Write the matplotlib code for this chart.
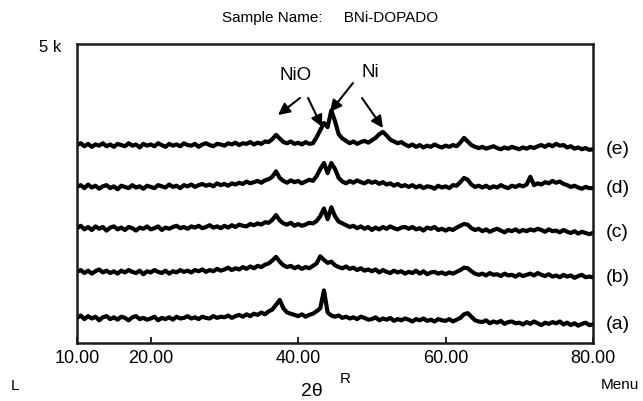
import numpy as np
import matplotlib
matplotlib.use('Agg')
import matplotlib.pyplot as plt

plt.rcParams['font.family'] = ['Liberation Sans', 'DejaVu Sans']

# 2theta grid, 0.5 deg steps from 10 to 80
two_theta = np.arange(10, 80.5, 0.5)

# intensities (counts) relative to each pattern's own baseline
trace_a = [0, 40, -20, 30, -10, 20, -40, 10, 30, -20,
           10, -30, 20, 0, -40, 10, 30, -20, 0, -30,
           -10, 20, -40, 0, -20, 10, -30, 20, -10, 0,
           30, -10, 10, -20, 20, 0, -10, 30, 0, 20,
           10, 40, 0, 30, 50, 20, 60, 30, 70, 50,
           90, 60, 110, 140, 220, 300, 160, 90, 70, 50,
           30, 60, 20, 50, 70, 110, 160, 460, 90, 40,
           20, 40, 0, 20, -10, 10, -20, 20, 0, -30,
           -20, 10, -40, -10, -30, 0, -50, -20, -40, -10,
           -30, -60, -20, -40, -10, -50, -30, -60, -20, -40,
           -50, -20, -60, -30, 0, 60, 80, 20, -40, -60,
           -70, -40, -90, -60, -80, -50, -100, -70, -60, -90,
           -80, -110, -70, -100, -60, -90, -120, -80, -100, -70,
           -90, -60, -110, -80, -120, -90, -130, -100, -80, -120,
           -110]
trace_b = [0, 30, -20, 20, -30, 10, 40, -10, 20, -20,
           10, -30, 20, -10, 30, 0, -20, 20, -40, 10,
           -10, 30, 0, -20, 20, -30, 10, -10, 30, 0,
           20, -10, 30, 10, 40, 0, 30, 10, 50, 20,
           40, 70, 30, 60, 40, 80, 50, 90, 60, 100,
           80, 120, 140, 190, 250, 170, 110, 80, 100, 60,
           90, 50, 80, 60, 100, 140, 260, 200, 150, 170,
           110, 80, 60, 90, 50, 70, 30, 60, 20, 40,
           10, 40, -10, 30, 0, -20, 20, -10, 10, -30,
           0, -20, 20, -30, 10, -40, -10, 0, -30, -10,
           -40, -10, -30, 0, 30, 70, 60, 10, -30, -50,
           -30, -60, -20, -50, -40, -70, -30, -60, -50, -80,
           -40, -70, -50, -30, -60, -20, -50, -70, -40, -80,
           -60, -90, -50, -80, -60, -100, -70, -50, -90, -80,
           -90]
trace_c = [0, 40, -20, 20, -30, 30, -10, 20, -40, 10,
           30, -20, 10, -30, 20, 0, -40, 10, -10, 30,
           -20, 0, 30, -30, 10, -10, 20, 40, 0, 20,
           -10, 30, 10, 40, 0, 20, 50, 10, 30, 0,
           40, 10, 50, 20, 60, 40, 30, 70, 50, 80,
           60, 100, 90, 140, 220, 130, 80, 60, 90, 40,
           70, 40, 60, 90, 80, 120, 200, 330, 150, 350,
           200, 110, 80, 50, 20, 40, 0, 30, -10, 20,
           -30, 10, -20, 20, -10, 30, 0, -20, 10, 20,
           -10, 20, -20, 0, -40, 10, -10, 20, -30, -10,
           -40, -10, -30, 10, 40, 70, 60, 0, -30, -10,
           -50, -20, -60, -30, -10, -40, -70, -30, -50, -20,
           -60, -30, -50, -20, -40, -10, -30, -60, -20, -50,
           -40, -70, -30, -60, -80, -50, -90, -60, -80, -100,
           -80]
trace_d = [0, 30, -20, 40, -10, 20, -30, 10, 30, -20,
           10, -40, 20, 0, -20, 30, -10, 10, -30, 20,
           0, -20, 30, 10, -10, 40, 0, 20, -20, 30,
           10, 40, 0, 30, 50, 20, 40, 10, 60, 30,
           50, 20, 60, 40, 70, 50, 90, 60, 80, 100,
           70, 110, 130, 170, 260, 150, 100, 70, 110, 80,
           100, 60, 90, 120, 100, 180, 300, 400, 230, 400,
           300, 150, 90, 60, 100, 70, 110, 80, 60, 100,
           70, 90, 50, 80, 40, 60, 20, 50, 10, 30,
           0, 30, -10, 20, -20, 10, 0, -30, 20, -10,
           10, -20, 30, 20, 80, 150, 120, 40, 0, 20,
           -10, 20, -20, 10, -10, 30, 0, -20, 20, 0,
           30, 10, 40, 170, 30, 60, 40, 80, 60, 100,
           70, 90, 50, 30, 0, 20, -10, -30, 0, -20,
           -20]
trace_e = [0, 30, -20, 20, -30, 10, -10, 30, -20, 10,
           -30, 20, 0, -20, 30, -10, 10, -40, 20, -10,
           10, -20, 30, 0, -30, 20, -10, 10, -20, 30,
           0, -10, 20, -30, 10, 30, 0, -20, 20, 10,
           -10, 30, 10, 40, 0, 30, 20, 50, 10, 40,
           20, 60, 50, 100, 170, 110, 50, 30, 60, 20,
           40, 10, 50, 20, 30, 130, 250, 370, 300, 580,
           400, 180, 110, 70, 30, 60, 20, 50, 70, 40,
           80, 120, 180, 220, 160, 90, 60, 30, 50, 10,
           -20, 10, -30, 0, -40, -10, -30, 10, -20, -40,
           -10, -30, 0, -20, 40, 120, 60, 0, -30, -50,
           -30, -60, -40, -20, -50, -70, -40, -60, -30, -50,
           -70, -40, -60, -30, -50, -20, 0, -30, 10, -20,
           20, -10, 0, -40, -20, -60, -40, -70, -50, -80,
           -70]

traces = [trace_a, trace_b, trace_c, trace_d, trace_e]
trace_labels = ['(a)', '(b)', '(c)', '(d)', '(e)']
offsets = [420, 1190, 1920, 2610, 3310]

x_ticks = [10, 20, 40, 60, 80]
x_ticklabels = ['10.00', '20.00', '40.00', '60.00', '80.00']

fig = plt.figure(figsize=(6.43, 4.01), dpi=100)
ax = fig.add_axes([0.1198, 0.1446, 0.8024, 0.7457])

for vals, off, lab in zip(traces, offsets, trace_labels):
    y = np.array(vals) + off
    ax.plot(two_theta, y, color='black', lw=3.0)
    ax.text(81.8, y[-1], lab, fontsize=14, va='center', ha='left', clip_on=False)

ax.set_xlim(10, 80)
ax.set_ylim(0, 5000)
ax.set_xticks(x_ticks)
ax.set_xticklabels(x_ticklabels, fontsize=13)
ax.set_yticks([])
ax.tick_params(axis='x', direction='in', length=4.5, width=1.2, pad=5)
for s in ax.spines.values():
    s.set_linewidth(1.8)
    s.set_color('#1a1a1a')

# peak markers
ax.text(39.7, 4480, 'NiO', fontsize=13.5, ha='center', va='center')
ax.text(49.75, 4515, 'Ni', fontsize=13.5, ha='center', va='center')
arrows = [((40.25, 4097), (37.27, 3813)),
          ((41.34, 4097), (43.24, 3612)),
          ((47.44, 4348), (44.32, 3863)),
          ((48.66, 4097), (51.51, 3595))]
for start, end in arrows:
    ax.annotate('', xy=end, xytext=start,
                arrowprops=dict(arrowstyle='-|>,head_length=0.7,head_width=0.35',
                                color='black', lw=1.5, shrinkA=0, shrinkB=0))

fig.text(330 / 643, 1 - 18 / 401, 'Sample Name:     BNi-DOPADO', fontsize=11,
         ha='center', va='center')
fig.text(50 / 643, 1 - 47 / 401, '5 k', fontsize=12, ha='center', va='center')
fig.text(15 / 643, 1 - 386 / 401, 'L', fontsize=11, ha='center', va='center')
fig.text(345 / 643, 1 - 379 / 401, 'R', fontsize=11, ha='center', va='center')
fig.text(312 / 643, 1 - 392 / 401, '2θ', fontsize=14, ha='center', va='center')
fig.text(620 / 643, 1 - 385 / 401, 'Menu', fontsize=11, ha='center', va='center')

fig.savefig('out.png', dpi=100)
